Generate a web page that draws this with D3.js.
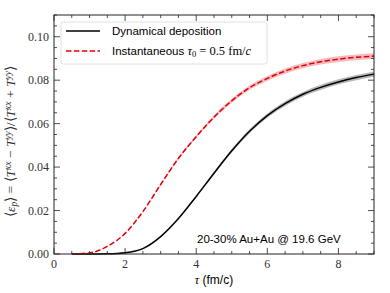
<!DOCTYPE html>
<html>
<head>
<meta charset="utf-8">
<script src="https://cdn.jsdelivr.net/npm/d3@7"></script>
<style>
  body { margin: 0; background: #fff; }
  svg { display: block; }
  .tick-label { font-family: "Liberation Serif", serif; font-size: 12px; fill: #333; }
  .sans { font-family: "Liberation Sans", sans-serif; }
  .math { font-family: "Liberation Serif", serif; }
</style>
</head>
<body>
<svg id="root" width="390" height="293"></svg>
<script>
// tau grid (fm/c)
const tau = [0.5, 1.0, 1.5, 2.0, 2.5, 3.0, 3.5, 4.0, 4.5, 5.0, 5.5, 6.0, 6.5, 7.0, 7.5, 8.0, 8.5, 9.0];
// Instantaneous tau0 = 0.5 fm/c
const instMean = [0, 0.0005, 0.0035, 0.0095, 0.0195, 0.032, 0.044, 0.054, 0.063, 0.0705, 0.0765, 0.0808, 0.0842, 0.0867, 0.0885, 0.0897, 0.0905, 0.0911];
const instErr = [0, 0, 0, 0.0001, 0.0002, 0.0003, 0.0005, 0.0006, 0.0008, 0.0009, 0.001, 0.0011, 0.0012, 0.0012, 0.0013, 0.0013, 0.0013, 0.0013];
// Dynamical deposition
const dynMean = [0, 0, 0.0001, 0.0006, 0.0025, 0.008, 0.0163, 0.0265, 0.0372, 0.0475, 0.0565, 0.0637, 0.0692, 0.0735, 0.0767, 0.0792, 0.0812, 0.0828];
const dynErr = [0, 0, 0, 0, 0.0001, 0.0002, 0.0003, 0.0005, 0.0006, 0.0008, 0.0009, 0.001, 0.0011, 0.0011, 0.0012, 0.0012, 0.0012, 0.0012];

const xTicks = [0, 2, 4, 6, 8];
const yTicks = [0, 0.02, 0.04, 0.06, 0.08, 0.10];

const margin = { left: 54, right: 16, top: 15, bottom: 39 };
const W = 390, H = 293;
const svg = d3.select('#root');

const x = d3.scaleLinear().domain([0, 9]).range([margin.left, W - margin.right]);
const y = d3.scaleLinear().domain([0, 0.11]).range([H - margin.bottom, margin.top]);

const plot = svg.append('g');

const series = [
  { mean: dynMean, err: dynErr, color: '#000', band: 'rgba(0,0,0,0.28)', dash: null },
  { mean: instMean, err: instErr, color: '#e0000a', band: 'rgba(230,30,40,0.3)', dash: '5.5,2.4' },
];

const curve = d3.curveMonotoneX;
series.forEach(s => {
  const pts = tau.map((t, i) => ({ t, m: s.mean[i], e: s.err[i] }));
  plot.append('path')
    .datum(pts)
    .attr('fill', s.band)
    .attr('d', d3.area().curve(curve).x(d => x(d.t)).y0(d => y(d.m - d.e)).y1(d => y(d.m + d.e)));
});
series.forEach(s => {
  const pts = tau.map((t, i) => ({ t, m: s.mean[i] }));
  plot.append('path')
    .datum(pts)
    .attr('fill', 'none')
    .attr('stroke', s.color)
    .attr('stroke-width', 1.5)
    .attr('stroke-dasharray', s.dash)
    .attr('d', d3.line().curve(curve).x(d => x(d.t)).y(d => y(d.m)));
});

// ticks pointing in, on all four sides
const xMinor = d3.range(0, 9.01, 0.5);
const yMinor = d3.range(0, 0.1101, 0.005);
const tickG = svg.append('g').attr('stroke', '#222').attr('stroke-width', 0.8);
const y0 = y.range()[0], y1 = y.range()[1];
const x0 = x.range()[0], x1 = x.range()[1];
xMinor.forEach(v => {
  const len = Math.abs(v % 2) < 1e-6 ? 6 : 3;
  tickG.append('line').attr('x1', x(v)).attr('x2', x(v)).attr('y1', y0).attr('y2', y0 - len);
  tickG.append('line').attr('x1', x(v)).attr('x2', x(v)).attr('y1', y1).attr('y2', y1 + len);
});
yMinor.forEach(v => {
  const len = Math.abs(Math.round(v * 1000) % 20) < 1e-6 ? 6 : 3;
  tickG.append('line').attr('y1', y(v)).attr('y2', y(v)).attr('x1', x0).attr('x2', x0 + len);
  tickG.append('line').attr('y1', y(v)).attr('y2', y(v)).attr('x1', x1).attr('x2', x1 - len);
});

svg.append('rect')
  .attr('x', x0).attr('y', y1).attr('width', x1 - x0).attr('height', y0 - y1)
  .attr('fill', 'none').attr('stroke', '#222').attr('stroke-width', 1);

svg.selectAll('.xlab').data(xTicks).enter().append('text')
  .attr('class', 'tick-label').attr('text-anchor', 'middle')
  .attr('x', d => x(d)).attr('y', y0 + 14).text(d => d);
svg.selectAll('.ylab').data(yTicks).enter().append('text')
  .attr('class', 'tick-label').attr('text-anchor', 'end')
  .attr('x', x0 - 5).attr('y', d => y(d) + 4).text(d => d.toFixed(2));

// axis titles
const xt = svg.append('text').attr('x', (x0 + x1) / 2).attr('y', 284).attr('text-anchor', 'middle').attr('font-size', 12);
xt.append('tspan').attr('class', 'math').attr('font-style', 'italic').text('τ');
xt.append('tspan').attr('class', 'sans').text(' (fm/c)');

const yt = svg.append('text')
  .attr('class', 'math')
  .attr('transform', `translate(15,${(y0 + y1) / 2 + 7}) rotate(-90)`)
  .attr('text-anchor', 'middle').attr('font-size', 13.5).attr('fill', '#333');
const part = (t, opts = {}) => {
  const sp = yt.append('tspan').text(t);
  if (opts.it) sp.attr('font-style', 'italic');
  if (opts.sup) sp.attr('baseline-shift', '38%').attr('font-size', 9.5);
  if (opts.sub) sp.attr('baseline-shift', '-22%').attr('font-size', 9.5);
  return sp;
};
part('⟨');
part('ε', { it: true });
part('p', { it: true, sub: true });
part('⟩ = ⟨');
part('T', { it: true });
part('xx', { it: true, sup: true });
part(' − ');
part('T', { it: true });
part('yy', { it: true, sup: true });
part('⟩/⟨');
part('T', { it: true });
part('xx', { it: true, sup: true });
part(' + ');
part('T', { it: true });
part('yy', { it: true, sup: true });
part('⟩');

// legend
const lg = svg.append('g');
lg.append('rect').attr('x', 61).attr('y', 22).attr('width', 206).attr('height', 42)
  .attr('rx', 2.5).attr('fill', 'rgba(255,255,255,0.8)').attr('stroke', '#d8d8d8').attr('stroke-width', 0.8);
series.forEach((s, i) => {
  const ly = 31 + i * 20;
  lg.append('line').attr('x1', 66).attr('x2', 100).attr('y1', ly).attr('y2', ly)
    .attr('stroke', s.color).attr('stroke-width', 1.5).attr('stroke-dasharray', s.dash);
});
lg.append('text').attr('class', 'sans').attr('x', 112).attr('y', 35).attr('font-size', 11.5).text('Dynamical deposition');
const l2 = lg.append('text').attr('x', 112).attr('y', 55).attr('font-size', 11.5);
l2.append('tspan').attr('class', 'sans').text('Instantaneous ');
l2.append('tspan').attr('class', 'math').attr('font-style', 'italic').attr('font-size', 12.5).text('τ');
l2.append('tspan').attr('class', 'math').attr('font-size', 8.5).attr('baseline-shift', '-25%').text('0');
l2.append('tspan').attr('class', 'math').attr('font-size', 12.5).text(' = 0.5 fm/');
l2.append('tspan').attr('class', 'math').attr('font-style', 'italic').attr('font-size', 12.5).text('c');

svg.append('text').attr('class', 'sans').attr('x', 197).attr('y', 243).attr('font-size', 11.5)
  .text('20-30% Au+Au @ 19.6 GeV');
</script>
</body>
</html>
